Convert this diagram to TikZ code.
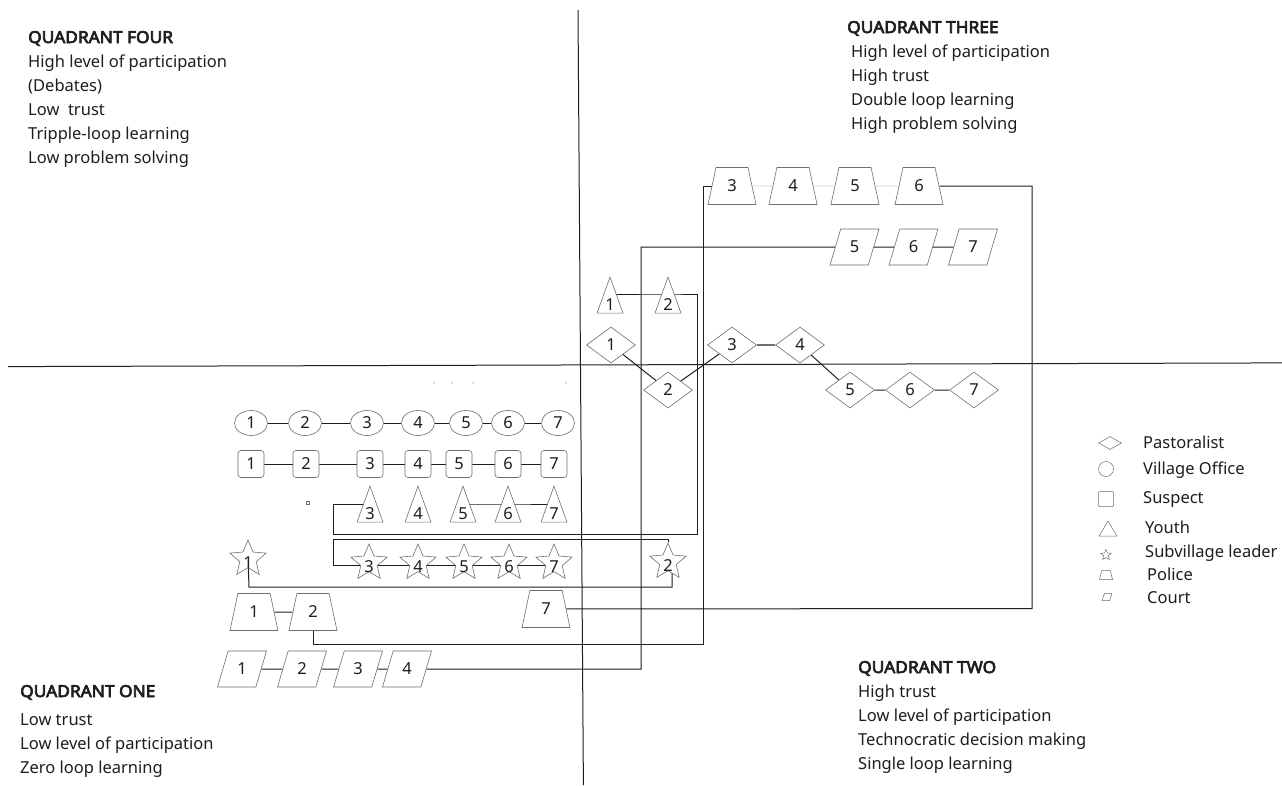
\documentclass[tikz,border=0pt]{standalone}
\usepackage{fontspec}
\setmainfont{Noto Sans}
\newfontfamily\qdheadfont{Noto Sans}[FakeBold=4,FakeStretch=1.05]
\usetikzlibrary{shapes.geometric}
\pgfdeclarelayer{bgfill}
\pgfdeclarelayer{background}
\pgfsetlayers{bgfill,background,main}
\definecolor{shapegray}{HTML}{6E6E6E}
\definecolor{ink}{HTML}{1E1E1E}
\definecolor{linkgray}{HTML}{CFCFCF}
\definecolor{midgray}{HTML}{707070}
\newcommand\qdfont{\fontsize{16.5}{19}\selectfont}
\tikzset{
 shp/.style={draw=shapegray, fill=white, line width=0.6pt, inner sep=0pt, font=\qdfont, text=ink},
 past/.style={shp, diamond, minimum width=49pt, minimum height=36pt},
 vill/.style={shp, ellipse, minimum width=33pt, minimum height=25pt},
 susp/.style={shp, rectangle, rounded corners=3pt, minimum width=26pt, minimum height=27pt},
 youthn/.style={shp, isosceles triangle, shape border rotate=90, isosceles triangle stretches,
   minimum width=26pt, minimum height=36pt,
   label={[yshift=-1pt, font=\qdfont, text=ink, inner sep=0pt]center:#1}},
 subv/.style={shp, star, star points=5, star point ratio=2.2, minimum size=38pt,
   label={[yshift=-4pt, font=\qdfont, text=ink, inner sep=0pt]center:#1}},
 pol/.style={shp, trapezium, trapezium left angle=79, trapezium right angle=79, trapezium stretches,
   minimum width=48pt, minimum height=37pt},
 crt/.style={shp, trapezium, trapezium left angle=73, trapezium right angle=107, trapezium stretches,
   minimum width=49pt, minimum height=36pt},
 lgs/.style={shp, line width=0.5pt},
 link/.style={draw=ink, line width=1pt},
 axis/.style={draw=ink, line width=1pt},
 txt/.style={anchor=base west, inner sep=0pt, font=\qdfont, text=ink},
 head/.style={txt, font=\qdheadfont\qdfont},
}
\begin{document}
\begin{tikzpicture}[x=1pt,y=-1pt]
\begin{pgfonlayer}{bgfill}
\fill[white] (0,0) rectangle (1282,785);
\end{pgfonlayer}
\useasboundingbox (0,0) rectangle (1282,785);

% axes
\coordinate (axT) at (578,10);
\coordinate (axB) at (583.4,785);
\coordinate (axL) at (8,366.6);
\coordinate (axR) at (1282,362.9);
\draw[axis] (axT) -- (axB);
\draw[axis] (axL) -- (axR);

% quadrant texts
\node[head] (q4h) at (28,43) {QUADRANT FOUR};
\node[txt] (q4a) at (28,67) {High level of participation};
\node[txt] (q4b) at (28,91) {(Debates)};
\node[txt] (q4c) at (28,115) {Low\ \ trust};
\node[txt] (q4d) at (28,139) {Tripple-loop learning};
\node[txt] (q4e) at (28,163) {Low problem solving};

\node[head] (q3h) at (847,33) {QUADRANT THREE};
\node[txt] (q3a) at (851,57) {High level of participation};
\node[txt] (q3b) at (851,81) {High trust};
\node[txt] (q3c) at (851,105) {Double loop learning};
\node[txt] (q3d) at (851,129) {High problem solving};

\node[head] (q2h) at (858,673) {QUADRANT TWO};
\node[txt] (q2a) at (858,697) {High trust};
\node[txt] (q2b) at (858,721) {Low level of participation};
\node[txt] (q2c) at (858,745) {Technocratic decision making};
\node[txt] (q2d) at (858,769) {Single loop learning};

\node[head] (q1h) at (20,697) {QUADRANT ONE};
\node[txt] (q1a) at (20,725) {Low trust};
\node[txt] (q1b) at (20,749) {Low level of participation};
\node[txt] (q1c) at (20,773) {Zero loop learning};

% police (top row)
\node[pol] (pol3) at (732,186) {3};
\node[pol] (pol4) at (793,186) {4};
\node[pol] (pol5) at (855,186) {5};
\node[pol] (pol6) at (919,186) {6};
% court (top row)
\node[crt] (ct5) at (854.5,247) {5};
\node[crt] (ct6) at (913.5,247) {6};
\node[crt] (ct7) at (973,247) {7};
% youth 1,2
\node[youthn=1] (y1) at (610,304) {};
\node[youthn=2] (y2) at (668,304) {};
% pastoralists
\node[past] (d1) at (611,345) {1};
\node[past] (d2) at (668,390) {2};
\node[past] (d3) at (732,345) {3};
\node[past] (d4) at (800,345) {4};
\node[past] (d5) at (850,390) {5};
\node[past] (d6) at (910,390) {6};
\node[past] (d7) at (974,390) {7};
% village office
\node[vill] (v1) at (251,423) {1};
\node[vill] (v2) at (305,423) {2};
\node[vill] (v3) at (367,423) {3};
\node[vill] (v4) at (418,423) {4};
\node[vill] (v5) at (466,423) {5};
\node[vill] (v6) at (508,423) {6};
\node[vill] (v7) at (558,423) {7};
% suspects
\node[susp] (u1) at (251,464) {1};
\node[susp] (u2) at (306,464) {2};
\node[susp] (u3) at (370,464) {3};
\node[susp] (u4) at (418,464) {4};
\node[susp] (u5) at (459,464) {5};
\node[susp] (u6) at (508,464) {6};
\node[susp] (u7) at (554,464) {7};
% youth 3-7
\node[youthn=3] (y3) at (370,513) {};
\node[youthn=4] (y4) at (418,513) {};
\node[youthn=5] (y5) at (463,513) {};
\node[youthn=6] (y6) at (508,513) {};
\node[youthn=7] (y7) at (554,513) {};
% subvillage leaders
\node[subv=1] (s1) at (248,559) {};
\node[subv=2] (s2) at (668,562) {};
\node[subv=3] (s3) at (369,563) {};
\node[subv=4] (s4) at (418,563) {};
\node[subv=5] (s5) at (464,563) {};
\node[subv=6] (s6) at (509,563) {};
\node[subv=7] (s7) at (554,563) {};
% police (bottom)
\node[pol] (pol1) at (254,612) {1};
\node[pol] (pol2) at (313,612) {2};
\node[pol] (pol7) at (546,609) {7};
% court (bottom)
\node[crt] (cb1) at (242,669) {1};
\node[crt] (cb2) at (302,669) {2};
\node[crt] (cb3) at (358,669) {3};
\node[crt] (cb4) at (407,669) {4};

% tiny marks
\fill[shapegray] (434,383) circle (0.7);
\fill[shapegray] (452,383) circle (0.7);
\fill[shapegray] (473,383) circle (0.7);
\fill[shapegray] (566,383) circle (0.7);
\draw[shapegray, line width=0.6pt] (306.5,501.5) rectangle (309.5,504.5);

% bend coordinates
\coordinate (r1) at (1032,186);
\coordinate (r2) at (1032,608.5);
\coordinate (k1) at (703,186);
\coordinate (k2) at (703,644);
\coordinate (k3) at (313,644);
\coordinate (m1) at (641,247);
\coordinate (m2) at (641,669);
\coordinate (t1) at (697,294);
\coordinate (t2) at (697,534);
\coordinate (t3) at (333,534);
\coordinate (t4) at (333,504);
\coordinate (g1) at (668,539);
\coordinate (g2) at (333,539);
\coordinate (g3) at (333,565);
\coordinate (h1) at (249,587);
\coordinate (h2) at (672,587);

\begin{pgfonlayer}{background}
\draw[draw=linkgray, line width=0.8pt] (pol3) -- (pol4) -- (pol5) -- (pol6);
\draw[link] (pol6) -- (r1) -- (r2) -- (pol7);
\draw[link] (pol3) -- (k1) -- (k2) -- (k3) -- (pol2);
\draw[link] (ct5) -- (m1) -- (m2) -- (cb4);
\draw[link] (ct5) -- (ct6) -- (ct7);
\draw[link] ([yshift=10pt]y1.center) -- ([yshift=10pt]y2.center) -- (t1) -- (t2) -- (t3) -- (t4) -- ([yshift=9pt]y3.center);
\draw[link] ([yshift=9pt]y5.center) -- ([yshift=9pt]y6.center) -- ([yshift=9pt]y7.center);
\draw[link] (s2) -- (g1) -- (g2) -- (g3) -- ([yshift=-2pt]s3.center);
\draw[link] ([yshift=-2pt]s3.center) -- ([yshift=-2pt]s4.center) -- ([yshift=-2pt]s5.center) -- ([yshift=-2pt]s6.center) -- ([yshift=-2pt]s7.center);
\draw[link] (s1.center) -- (h1) -- (h2) -- ([xshift=4pt]s2.center);
\draw[link] (v1) -- (v2) -- (v3) -- (v4) -- (v5) -- (v6) -- (v7);
\draw[link] (u1) -- (u2) -- (u3) -- (u4) -- (u5) -- (u6) -- (u7);
\draw[link] (pol1) -- (pol2);
\draw[link] (cb1) -- (cb2) -- (cb3) -- (cb4);
\draw[link] (d1) -- (d2) -- (d3);
\draw[draw=midgray, line width=1.2pt] (d3) -- (d4);
\draw[link] (d4) -- (d5) -- (d6) -- (d7);
\end{pgfonlayer}

% legend
\node[lgs, diamond, minimum width=23pt, minimum height=13pt] (lg1) at (1110,443) {};
\node[lgs, circle, minimum size=15pt] (lg2) at (1106,469) {};
\node[lgs, rectangle, rounded corners=1pt, minimum width=15pt, minimum height=15pt] (lg3) at (1106,499) {};
\node[lgs, isosceles triangle, shape border rotate=90, isosceles triangle stretches, minimum width=18pt, minimum height=15pt] (lg4) at (1108,531) {};
\node[lgs, star, star points=5, star point ratio=2.2, minimum size=11pt] (lg5) at (1106,555) {};
\node[lgs, trapezium, inner sep=0.5pt, trapezium left angle=75, trapezium right angle=75, trapezium stretches, minimum width=13pt, minimum height=9pt] (lg6) at (1106,575) {};
\node[lgs, trapezium, inner sep=0.5pt, trapezium left angle=65, trapezium right angle=115, trapezium stretches, minimum width=10pt, minimum height=7pt] (lg7) at (1107,597) {};
\node[txt] (lt1) at (1143,448) {Pastoralist};
\node[txt] (lt2) at (1143,474) {Village Office};
\node[txt] (lt3) at (1143,503) {Suspect};
\node[txt] (lt4) at (1145,533) {Youth};
\node[txt] (lt5) at (1145,557) {Subvillage leader};
\node[txt] (lt6) at (1147,580) {Police};
\node[txt] (lt7) at (1147,603) {Court};
\end{tikzpicture}
\end{document}
